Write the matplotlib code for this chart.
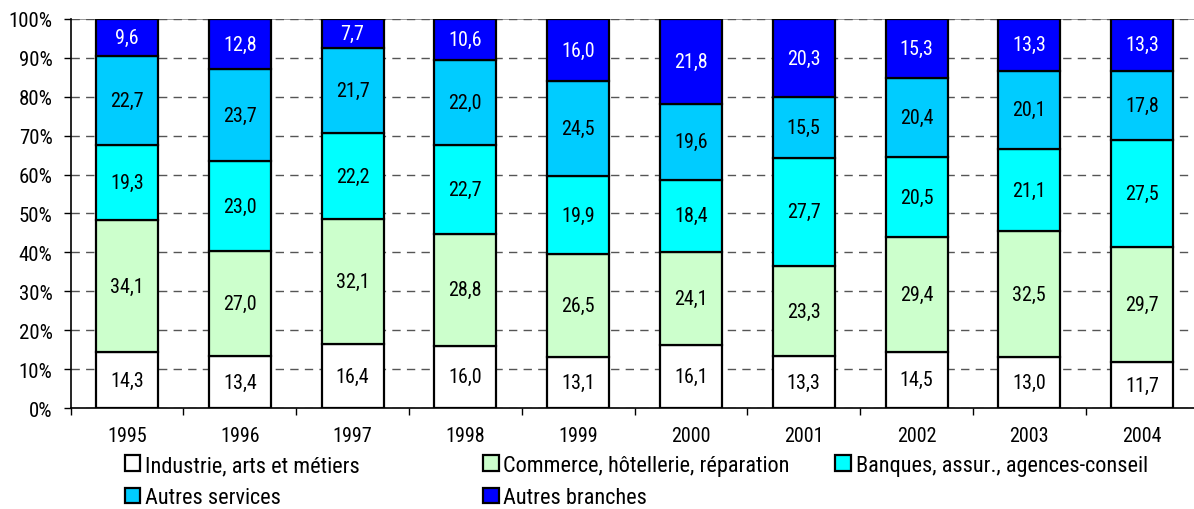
import matplotlib
matplotlib.use("Agg")
import matplotlib.pyplot as plt
import numpy as np
from matplotlib import font_manager

years = ["1995", "1996", "1997", "1998", "1999", "2000", "2001", "2002", "2003", "2004"]
series_names = ["Industrie, arts et métiers", "Commerce, hôtellerie, réparation",
                "Banques, assur., agences-conseil", "Autres services", "Autres branches"]
industrie = [14.3, 13.4, 16.4, 16.0, 13.1, 16.1, 13.3, 14.5, 13.0, 11.7]
commerce = [34.1, 27.0, 32.1, 28.8, 26.5, 24.1, 23.3, 29.4, 32.5, 29.7]
banques = [19.3, 23.0, 22.2, 22.7, 19.9, 18.4, 27.7, 20.5, 21.1, 27.5]
autres_services = [22.7, 23.7, 21.7, 22.0, 24.5, 19.6, 15.5, 20.4, 20.1, 17.8]
autres_branches = [9.6, 12.8, 7.7, 10.6, 16.0, 21.8, 20.3, 15.3, 13.3, 13.3]
colors = ["#FFFFFF", "#CCFFCC", "#00FFFF", "#00CCFF", "#0000FF"]
text_colors = ["black", "black", "black", "black", "white"]

names = set(f.name for f in font_manager.fontManager.ttflist)
fam = "Liberation Sans"
for cand in ["Liberation Sans Narrow", "Arial Narrow", "Roboto Condensed", "Open Sans Condensed"]:
    if cand in names:
        fam = cand
        break
plt.rcParams["font.family"] = [fam, "DejaVu Sans"]
narrow = fam != "Liberation Sans"
scale = 1.0 if narrow else 0.88

fig = plt.figure(figsize=(11.94, 5.10), dpi=100)
ax = fig.add_axes([0.0591, 0.198, 0.9447, 0.763])

data = [industrie, commerce, banques, autres_services, autres_branches]
x = np.arange(len(years))
bottom = np.zeros(len(years))
handles = []
for vals, c, tc, name in zip(data, colors, text_colors, series_names):
    vals = np.array(vals)
    bars = ax.bar(x, vals, bottom=bottom, width=0.55, color=c, edgecolor="black",
                  linewidth=1.6, label=name, zorder=3)
    handles.append(bars)
    for xi, b, v in zip(x, bottom, vals):
        ax.text(xi, b + v / 2, f"{v:.1f}".replace(".", ","), ha="center", va="center",
                color=tc, fontsize=14.5 * scale, zorder=4)
    bottom += vals

ax.set_xlim(-0.5, len(years) - 0.5)
ax.set_ylim(0, 100)
ax.set_yticks(np.arange(0, 101, 10))
ax.set_yticklabels([f"{v}%" for v in range(0, 101, 10)], fontsize=15 * scale)
ax.set_xticks(x)
ax.set_xticklabels(years, fontsize=14.5 * scale)
ax.tick_params(axis="x", length=0, pad=13)
ax.set_xticks(np.arange(-0.5, len(years), 1), minor=True)
ax.tick_params(axis="x", which="minor", length=5, width=1, direction="out")
ax.tick_params(axis="y", length=5, width=1, direction="out", pad=8)
ax.yaxis.grid(True, linestyle=(0, (6, 4.5)), color="#555555", linewidth=1, zorder=0)
ax.spines["right"].set_visible(False)
ax.spines["top"].set_visible(False)
ax.axhline(100, color="#888888", linewidth=1.2, zorder=1)
ax.spines["left"].set_linewidth(1.2)
ax.spines["bottom"].set_linewidth(1.2)

# legend laid out as three columns
col_x = [0.1045, 0.4045, 0.6995]
cols = [[0, 3], [1, 4], [2]]
for cx, idx in zip(col_x, cols):
    leg = fig.legend([handles[i] for i in idx], [series_names[i] for i in idx],
                     loc="upper left", bbox_to_anchor=(cx, 0.106), frameon=False,
                     fontsize=16 * scale, handlelength=0.7, handleheight=0.7, handletextpad=0.22,
                     labelspacing=0.52, borderaxespad=0, borderpad=0)
    for h in leg.legend_handles:
        h.set_linewidth(1.6)

fig.savefig("out.png", dpi=100)
